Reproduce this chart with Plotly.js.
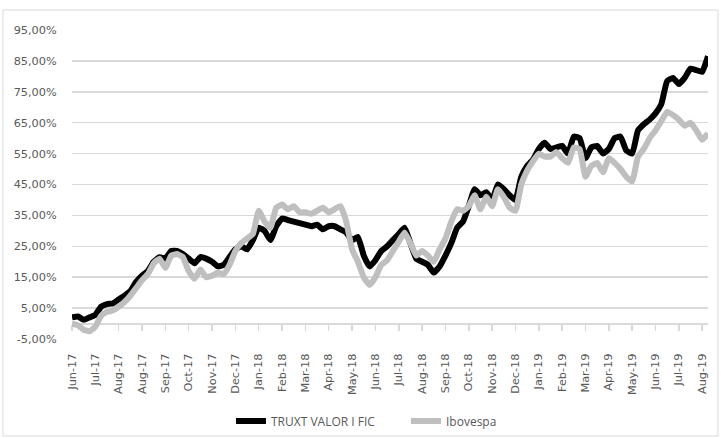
<!DOCTYPE html>
<html>
<head>
<meta charset="utf-8">
<script src="https://cdn.plot.ly/plotly-3.0.1.min.js"></script>
<style>
html,body{margin:0;padding:0;background:#fff;}
#chart{width:721px;height:438px;}
</style>
</head>
<body>
<div id="chart"></div>
<script>
// Category labels shown under the axis (one every 20 trading days)
const monthLabels = ['Jun-17','Jul-17','Aug-17','Aug-17','Sep-17','Oct-17','Nov-17','Dec-17',
  'Jan-18','Feb-18','Mar-18','Apr-18','May-18','Jun-18','Jul-18','Aug-18','Sep-18','Oct-18',
  'Nov-18','Dec-18','Jan-19','Feb-19','Mar-19','Apr-19','May-19','Jun-19','Jul-19','Aug-19'];

// Cumulative return (%) sampled every 5 trading days
const truxt = [
  2.0, 2.3, 1.2, 2.0, 2.8, 5.5, 6.3, 6.5, 7.8, 9.0, 10.5, 13.5, 15.5, 17.0, 20.0, 21.5, 21.0, 23.5, 23.5, 22.5, 21.0, 19.5, 21.5,
  21.0, 20.0, 18.5, 19.0, 21.5, 24.0, 25.0, 24.0, 27.0, 31.0, 30.0, 27.0, 31.5, 34.0, 33.5, 33.0, 32.5, 32.0, 31.5, 32.0, 30.5, 31.5,
  31.5, 30.5, 29.5, 27.0, 28.0, 22.0, 18.5, 20.5, 23.5, 25.0, 27.0, 29.0, 31.0, 26.0, 21.0, 20.0, 19.0, 16.5, 18.5, 22.0, 26.0, 31.0,
  33.0, 38.0, 43.5, 41.5, 42.5, 40.0, 45.0, 43.5, 41.5, 40.0, 47.5, 51.0, 53.0, 56.5, 58.5, 56.5, 57.0, 57.5, 55.0, 60.5, 60.0, 53.5,
  57.0, 57.5, 55.0, 56.5, 60.0, 60.5, 56.0, 55.0, 62.5, 64.5, 66.0, 68.0, 71.0, 78.5, 79.5, 77.5, 79.5, 82.5, 82.0, 81.5, 86.5
];
const ibov = [
  0.0, -0.5, -2.0, -2.5, -1.0, 2.5, 3.8, 4.2, 5.5, 7.0, 9.0, 11.5, 14.0, 16.0, 19.5, 21.0, 18.0, 22.0, 22.5, 21.5, 17.0, 14.5, 17.5,
  15.0, 15.5, 16.5, 16.0, 19.0, 23.5, 26.0, 27.5, 29.0, 36.5, 33.0, 31.0, 37.5, 38.5, 37.0, 38.0, 36.0, 36.0, 35.5, 36.5, 37.5, 36.0,
  37.0, 38.0, 33.0, 24.0, 20.0, 15.0, 12.5, 15.0, 19.0, 20.5, 23.5, 26.5, 29.5, 26.0, 22.0, 23.5, 22.0, 20.0, 24.0, 27.5, 33.0, 37.0,
  36.5, 38.0, 41.5, 37.0, 41.0, 38.0, 43.5, 41.0, 37.5, 36.5, 45.0, 49.5, 52.5, 55.0, 54.0, 54.0, 55.5, 53.5, 52.0, 57.0, 56.5, 47.5,
  51.0, 52.0, 49.0, 53.5, 52.0, 50.0, 47.5, 46.0, 54.0, 56.5, 60.0, 62.5, 65.5, 68.5, 67.5, 66.0, 64.0, 65.0, 62.5, 59.5, 61.5
];

const yTickVals = [-5, 5, 15, 25, 35, 45, 55, 65, 75, 85, 95];
const yTickText = ['-5,00%','5,00%','15,00%','25,00%','35,00%','45,00%','55,00%','65,00%','75,00%','85,00%','95,00%'];

const seriesNames = ['TRUXT VALOR I FIC', 'Ibovespa'];

const STEP = 5;          // trading days between samples
const LABEL_EVERY = 20;  // trading days between axis labels
const days = truxt.map((_, i) => i * STEP);
const tickDays = monthLabels.map((_, i) => i * LABEL_EVERY);
const xRange = [0, (truxt.length - 1) * STEP];

const tickFont = {family: 'DejaVu Sans, sans-serif', size: 11.3, color: '#595959'};

const traces = [
  {x: days, y: truxt, name: seriesNames[0], type: 'scatter', mode: 'lines',
   line: {color: '#000000', width: 6, shape: 'spline', smoothing: 0.4}, xaxis: 'x', yaxis: 'y', hoverinfo: 'skip'},
  {x: days, y: ibov, name: seriesNames[1], type: 'scatter', mode: 'lines',
   line: {color: '#bfbfbf', width: 6, shape: 'spline', smoothing: 0.4}, xaxis: 'x2', yaxis: 'y', hoverinfo: 'skip'}
];

const layout = {
  width: 721, height: 438,
  margin: {l: 72, r: 13, t: 30, b: 99, autoexpand: false},
  paper_bgcolor: '#ffffff', plot_bgcolor: '#ffffff',
  showlegend: true,
  xaxis: {
    range: xRange, tickvals: tickDays, ticktext: monthLabels, tickangle: -90,
    showgrid: false, zeroline: false, showline: false, automargin: false,
    ticks: 'outside', ticklen: 9, tickcolor: 'rgba(0,0,0,0)',
    tickfont: tickFont, fixedrange: true
  },
  xaxis2: {
    overlaying: 'x', anchor: 'free', position: 0.05, side: 'bottom',
    range: xRange, tickvals: tickDays, showticklabels: false, automargin: false,
    ticks: 'outside', ticklen: 6, tickwidth: 1.5, tickcolor: '#d9d9d9',
    showline: true, linecolor: '#d9d9d9', linewidth: 1.5,
    showgrid: false, zeroline: false, layer: 'below traces', fixedrange: true
  },
  yaxis: {
    range: [-5, 95], tickvals: yTickVals, ticktext: yTickText,
    showgrid: true, gridcolor: '#d9d9d9', gridwidth: 1.5,
    zeroline: true, zerolinecolor: '#d9d9d9', zerolinewidth: 1.5,
    showline: false, automargin: false,
    ticks: 'outside', ticklen: 12, tickcolor: 'rgba(0,0,0,0)',
    tickfont: tickFont, fixedrange: true
  },
  legend: {
    orientation: 'h', x: 0.25, xanchor: 'left', y: -0.265, yanchor: 'middle',
    font: {family: 'Open Sans, sans-serif', size: 12, color: '#595959'},
    bgcolor: 'rgba(0,0,0,0)', entrywidth: 130, entrywidthmode: 'pixels'
  },
  shapes: [{
    type: 'rect', xref: 'paper', yref: 'paper',
    x0: (3 - 72) / 636, x1: (718 - 72) / 636, y0: (339 - 436) / 309, y1: (339 - 10) / 309,
    line: {color: '#d9d9d9', width: 1}, fillcolor: 'rgba(0,0,0,0)', layer: 'below'
  }]
};

Plotly.newPlot('chart', traces, layout, {staticPlot: true, displayModeBar: false});
</script>
</body>
</html>
